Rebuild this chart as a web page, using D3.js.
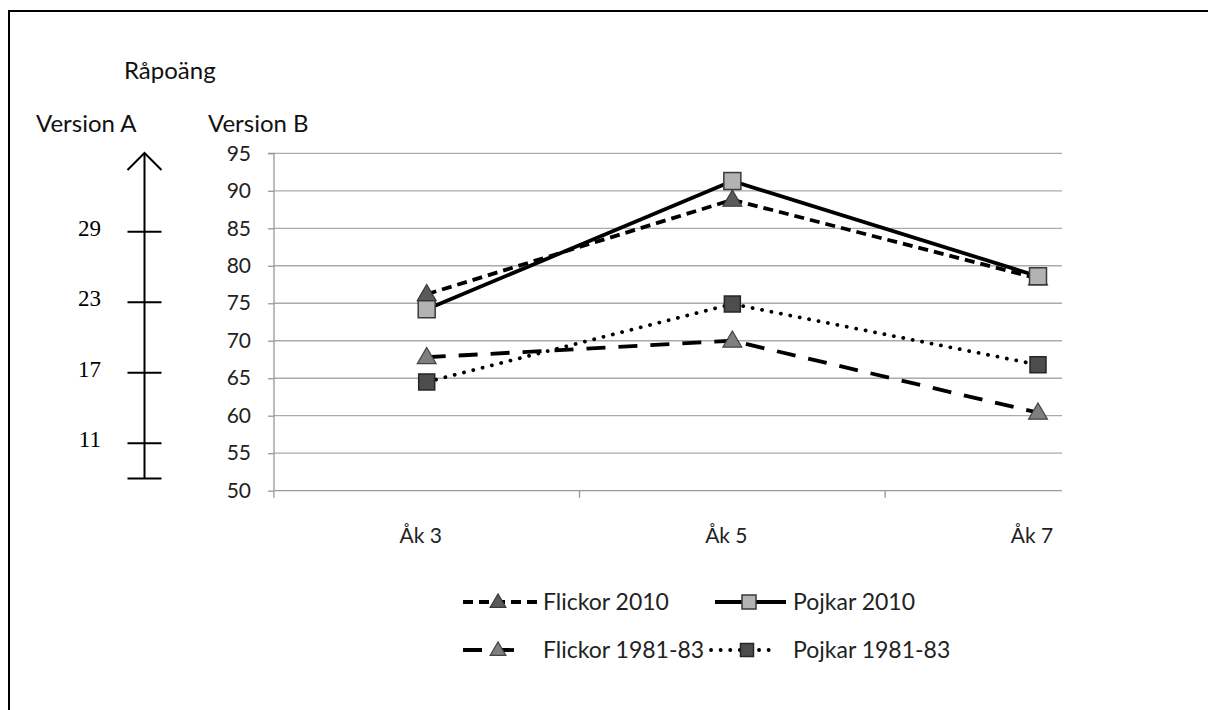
<!DOCTYPE html>
<html><head><meta charset="utf-8">
<script src="https://cdn.jsdelivr.net/npm/d3@7"></script>
<style>body{margin:0;background:#fff}svg{display:block}</style>
</head><body>
<svg id="c" width="1208" height="710"></svg>
<script>
const categories = ["Åk 3", "Åk 5", "Åk 7"];
const flickor2010 = [76.2, 88.8, 78.3];
const pojkar2010 = [74.2, 91.3, 78.6];
const flickor1981 = [67.8, 70.0, 60.4];
const pojkar1981 = [64.5, 74.9, 66.8];
const seriesNames = ["Flickor 2010", "Pojkar 2010", "Flickor 1981-83", "Pojkar 1981-83"];
const yTicksB = [50, 55, 60, 65, 70, 75, 80, 85, 90, 95];
const yTicksA = [11, 17, 23, 29];
const titleText = "Råpoäng", versionA = "Version A", versionB = "Version B";

const svg = d3.select("#c");
const font = "Lato, 'Open Sans', sans-serif";
// border
svg.append("line").attr("x1",8).attr("x2",1208).attr("y1",11).attr("y2",11).attr("stroke","#000").attr("stroke-width",2);
svg.append("line").attr("x1",9).attr("x2",9).attr("y1",10).attr("y2",710).attr("stroke","#000").attr("stroke-width",2);

const plotL = 274, plotR = 1062, plotT = 153.3, plotB = 490.7;
const y = d3.scaleLinear().domain([50,95]).range([plotB, plotT]);
const x = d3.scalePoint().domain(categories).range([426.7, 1038]);
const step = x.step();

// gridlines
svg.append("g").selectAll("line").data(yTicksB.slice(1)).join("line")
  .attr("x1",plotL).attr("x2",plotR).attr("y1",d=>y(d)).attr("y2",d=>y(d))
  .attr("stroke","#aaaaaa").attr("stroke-width",1.3);

// y axis
const yAxis = d3.axisLeft(y).tickValues(yTicksB).tickSize(6).tickPadding(17);
const gy = svg.append("g").attr("transform",`translate(${plotL},0)`).call(yAxis);
gy.select(".domain").attr("stroke","#999").attr("stroke-width",1.3).attr("d",`M-6,${plotT}H0V${plotB}`);
gy.selectAll(".tick line").attr("stroke","#999").attr("stroke-width",1.3);
gy.selectAll(".tick text").attr("font-family",font).attr("font-size",21).attr("fill","#222");

// x axis
svg.append("line").attr("x1",plotL).attr("x2",plotR).attr("y1",plotB).attr("y2",plotB).attr("stroke","#999").attr("stroke-width",1.3);
const xt = [x(categories[0]) - step/2, x(categories[0]) + step/2, x(categories[1]) + step/2];
svg.append("g").selectAll("line").data(xt).join("line")
  .attr("x1",d=>d).attr("x2",d=>d).attr("y1",plotB).attr("y2",plotB+7)
  .attr("stroke","#999").attr("stroke-width",1.3);
svg.append("g").selectAll("text").data(categories).join("text")
  .attr("x",d=>x(d)-6).attr("y",plotB+52).attr("text-anchor","middle")
  .attr("font-family",font).attr("font-size",21).attr("fill","#222").text(d=>d);

// titles
svg.append("text").attr("x",124).attr("y",79).attr("font-family",font).attr("font-size",24).attr("fill","#111").text(titleText);
svg.append("text").attr("x",36).attr("y",132).attr("font-family",font).attr("font-size",24).attr("fill","#111").text(versionA);
svg.append("text").attr("x",208).attr("y",132).attr("font-family",font).attr("font-size",24).attr("fill","#111").text(versionB);

// Version A scale
const yA = d3.scaleLinear().domain([11,29]).range([443.3,231.7]);
const axA = 144.5;
svg.append("line").attr("x1",axA).attr("x2",axA).attr("y1",yA(35.7)).attr("y2",yA(8)).attr("stroke","#000").attr("stroke-width",2);
svg.append("path").attr("d",`M${axA-17},${yA(35.7)+17}L${axA},${yA(35.7)}L${axA+17},${yA(35.7)+17}`).attr("fill","none").attr("stroke","#000").attr("stroke-width",2);
svg.append("g").selectAll("line").data(yTicksA.concat([8])).join("line")
  .attr("x1",axA-17).attr("x2",axA+17).attr("y1",d=>yA(d)).attr("y2",d=>yA(d)).attr("stroke","#000").attr("stroke-width",2);
svg.append("g").selectAll("text").data(yTicksA).join("text")
  .attr("x",101).attr("y",d=>yA(d)+4).attr("text-anchor","end")
  .attr("font-family","'Liberation Serif', 'Times New Roman', serif").attr("font-size",23).attr("fill","#000").text(d=>d);

// series
const series = [
  {name: seriesNames[0], values: flickor2010, dash: "10,6", cap: "butt", marker: "tri", fill: "#5a5a5a", stroke: "#3a3a3a", size: 18},
  {name: seriesNames[1], values: pojkar2010, dash: null, cap: "butt", marker: "sq", fill: "#b3b3b3", stroke: "#3a3a3a", size: 17},
  {name: seriesNames[2], values: flickor1981, dash: "19,13", cap: "butt", marker: "tri", fill: "#7f7f7f", stroke: "#444", size: 18},
  {name: seriesNames[3], values: pojkar1981, dash: "0.1,9.5", cap: "round", marker: "sq", fill: "#4d4d4d", stroke: "#262626", size: 16},
];
const line = d3.line().x((d,i)=>x(categories[i])).y(d=>y(d));
svg.append("g").selectAll("path").data(series).join("path")
  .attr("d",s=>line(s.values)).attr("fill","none").attr("stroke","#000")
  .attr("stroke-width",3.8).attr("stroke-dasharray",s=>s.dash).attr("stroke-linecap",s=>s.cap);

function drawMarker(g, s, cx, cy){
  const h = s.size;
  if (s.marker === "sq") {
    g.append("rect").attr("x",cx-h/2).attr("y",cy-h/2).attr("width",h).attr("height",h)
      .attr("fill",s.fill).attr("stroke",s.stroke).attr("stroke-width",1.5);
  } else {
    const w = h*1.05, th = h*0.9;
    g.append("path").attr("d",`M${cx},${cy-th*0.6}L${cx+w/2},${cy+th*0.4}L${cx-w/2},${cy+th*0.4}Z`)
      .attr("fill",s.fill).attr("stroke",s.stroke).attr("stroke-width",1.2);
  }
}
const mg = svg.append("g");
series.forEach(s=>s.values.forEach((v,i)=>drawMarker(mg, s, x(categories[i]), y(v))));

// legend
const leg = [
  {s: series[0], row: 0, x0: 463, x1: 537, mx: 498, tx: 543},
  {s: series[1], row: 0, x0: 715, x1: 786, mx: 749, tx: 793},
  {s: series[2], row: 1, x0: 463, x1: 524, mx: 498, tx: 543},
  {s: series[3], row: 1, x0: 711, x1: 778, mx: 747, tx: 793},
];
const rowY = [602, 650];
const lg = svg.append("g");
leg.forEach(e=>{
  const yy = rowY[e.row];
  lg.append("line").attr("x1",e.x0).attr("x2",e.x1).attr("y1",yy).attr("y2",yy)
    .attr("stroke","#000").attr("stroke-width",3.8).attr("stroke-dasharray",e.s.dash).attr("stroke-linecap",e.s.cap);
  drawMarker(lg, Object.assign({}, e.s, {size: e.s.size-3}), e.mx, yy);
  lg.append("text").attr("x",e.tx).attr("y",yy+8).attr("font-family",font).attr("font-size",23).attr("fill","#222").text(e.s.name);
});
</script>
</body></html>
